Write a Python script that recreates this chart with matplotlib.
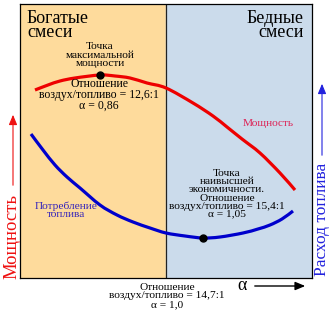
import matplotlib
matplotlib.use("Agg")
import matplotlib.pyplot as plt
from matplotlib.path import Path
from matplotlib.patches import PathPatch, FancyArrowPatch
import numpy as np

plt.rcParams['font.family'] = ['Liberation Serif', 'DejaVu Serif']

# Curve samples: x along the alpha direction, y as relative level (0..274 frame)
power_x = [15, 28, 40, 55, 80, 95, 110, 127, 146, 173, 193, 207, 222, 240, 260, 275]
power_y = [188, 193, 197, 200, 203, 202, 200, 195, 190, 175, 162, 151, 139, 125, 105, 88]

fuel_x = [11, 23, 35, 47, 60, 80, 97, 113, 130, 146, 165, 183, 200, 223, 238, 250, 262, 273]
fuel_y = [144, 128, 113, 101, 90, 73, 63, 56, 50, 45, 42, 40, 41, 45, 49, 53, 59, 67]

max_power = (80, 203)
best_economy = (183, 40)
stoich_x = 146


def smooth_path(xs, ys):
    """Cubic Bezier path through the samples (Catmull-Rom tangents)."""
    p = np.column_stack([xs, ys]).astype(float)
    verts = [p[0]]
    codes = [Path.MOVETO]
    n = len(p)
    for i in range(n - 1):
        p0 = p[i - 1] if i > 0 else p[i]
        p3 = p[i + 2] if i + 2 < n else p[i + 1]
        c1 = p[i] + (p[i + 1] - p0) / 6
        c2 = p[i + 1] - (p3 - p[i]) / 6
        verts += [c1, c2, p[i + 1]]
        codes += [Path.CURVE4] * 3
    return Path(verts, codes)


fig = plt.figure(figsize=(3.30, 3.16), dpi=100)
W, H = 330, 316
ax = fig.add_axes([20 / W, 1 - 278 / H, 292 / W, 274 / H])
ax.set_xlim(0, 292)
ax.set_ylim(0, 274)
ax.axvspan(0, stoich_x, color='#fedb9c', zorder=0)
ax.axvspan(stoich_x, 292, color='#cbdbeb', zorder=0)
ax.axvline(stoich_x, color='#222222', lw=0.9, zorder=1)
ax.set_xticks([])
ax.set_yticks([])
for s in ax.spines.values():
    s.set_linewidth(0.9)

ax.add_patch(PathPatch(smooth_path(power_x, power_y), fill=False, edgecolor='#ee0000',
                       lw=2.3, capstyle='butt', zorder=3))
ax.add_patch(PathPatch(smooth_path(fuel_x, fuel_y), fill=False, edgecolor='#0000cc',
                       lw=2.3, capstyle='butt', zorder=3))
ax.plot(*max_power, 'o', color='black', ms=5, zorder=4)
ax.plot(*best_economy, 'o', color='black', ms=5, zorder=4)

small = 8.2
ls = 0.9
ax.text(7, 268, 'Богатые\nсмеси', ha='left', va='top', fontsize=13, linespacing=0.8)
ax.text(284, 268, 'Бедные\nсмеси', ha='right', va='top', fontsize=13, linespacing=0.8)
ax.text(80, 223, 'Точка\nмаксимальной\nмощности', ha='center', va='center',
        fontsize=small, linespacing=ls)
ax.text(79, 183, 'Отношение\nвоздух/топливо = 12,6:1\nα = 0,86', ha='center', va='center',
        fontsize=small + 0.3, linespacing=ls)
ax.text(248, 155, 'Мощность', ha='center', va='center', fontsize=small, color='#dd2255')
ax.text(46, 68, 'Потребление\nтоплива', ha='center', va='center', fontsize=small,
        color='#3322bb', linespacing=ls)
ax.text(207, 84, 'Точка\nнаивысшей\nэкономичности.\nОтношение\nвоздух/топливо = 15,4:1\nα = 1,05',
        ha='center', va='center', fontsize=small, linespacing=ls - 0.03)

# Annotations outside the plotting frame
fig.text(167 / W, 1 - 296 / H, 'Отношение\nвоздух/топливо = 14,7:1\nα = 1,0',
         ha='center', va='center', fontsize=small, linespacing=ls)
fig.text(242 / W, 1 - 285 / H, 'α', ha='center', va='center', fontsize=13)
fig.add_artist(FancyArrowPatch(
    (252 / W, 1 - 286 / H), (308 / W, 1 - 286 / H), transform=fig.transFigure,
    arrowstyle='-|>,head_length=6,head_width=2.5', color='black', lw=1))

fig.text(12 / W, 1 - 236 / H, 'Мощность', rotation=90, ha='center', va='center',
         fontsize=13.5, color='#ee1111')
fig.add_artist(FancyArrowPatch(
    (13 / W, 1 - 188 / H), (13 / W, 1 - 112 / H), transform=fig.transFigure,
    arrowstyle='-|>,head_length=6,head_width=2.5', color='#ee1111', lw=0.8))

fig.text(322 / W, 1 - 219 / H, 'Расход топлива', rotation=90, ha='center', va='center',
         fontsize=12.5, color='#2222dd')
fig.add_artist(FancyArrowPatch(
    (322 / W, 1 - 158 / H), (322 / W, 1 - 81 / H), transform=fig.transFigure,
    arrowstyle='-|>,head_length=6,head_width=2.5', color='#2222dd', lw=0.8))

fig.savefig('out.png', dpi=100, facecolor='white')
